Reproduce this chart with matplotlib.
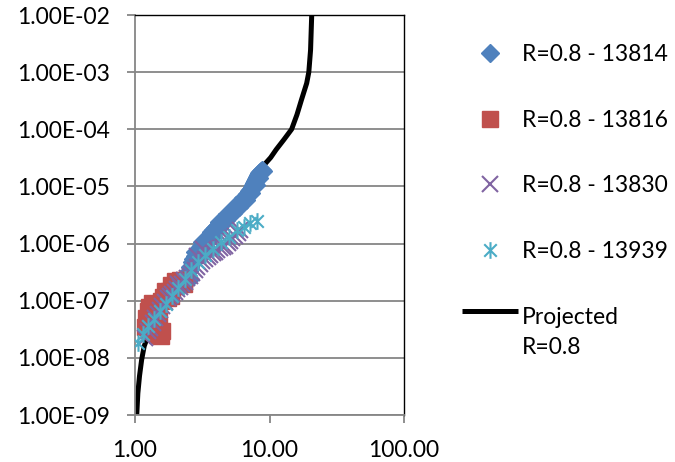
import matplotlib
matplotlib.use("Agg")
import numpy as np
import matplotlib.pyplot as plt
from matplotlib.path import Path
from matplotlib.legend_handler import HandlerLine2D
from matplotlib.ticker import NullLocator, FixedLocator

plt.rcParams['font.family'] = ['Lato', 'DejaVu Sans']

# ---------------- data ----------------
series_names = ["R=0.8 - 13814", "R=0.8 - 13816", "R=0.8 - 13830", "R=0.8 - 13939"]
line_name = "Projected\nR=0.8"

blue_x = [2.35, 2.45, 2.55, 2.50, 2.58, 2.66, 2.72, 2.80, 2.88, 2.95, 3.02, 3.10, 3.20, 3.30, 3.40,
          3.52, 3.65, 3.78, 3.92, 4.05, 4.20, 4.36, 4.52, 4.70, 4.88, 5.05, 5.25, 5.45, 5.65,
          5.85, 6.05, 6.25, 6.45, 6.65, 6.85, 7.05, 7.25, 7.42, 7.58, 7.72, 7.86, 8.00, 8.12,
          8.25, 8.38, 8.50, 8.62, 8.75,
          2.95, 3.30, 3.72, 4.20, 4.75, 5.35, 5.95, 6.65, 7.30, 7.90, 8.40, 8.90,
          2.78, 3.15, 3.65, 4.20, 4.85, 5.60, 6.40, 7.20, 7.80, 8.40]
blue_y = [2.2e-7, 2.7e-7, 2.4e-7, 3.3e-7, 3.9e-7, 4.7e-7, 5.4e-7, 6.0e-7, 6.8e-7, 7.5e-7, 8.2e-7,
          8.9e-7, 9.8e-7, 1.08e-6, 1.17e-6, 1.3e-6, 1.45e-6, 1.7e-6, 1.9e-6, 2.0e-6, 2.15e-6,
          2.35e-6, 2.6e-6, 2.85e-6, 3.1e-6, 3.4e-6, 3.8e-6, 4.1e-6, 4.5e-6, 4.9e-6, 5.3e-6,
          5.8e-6, 6.3e-6, 6.9e-6, 7.5e-6, 8.2e-6, 9.0e-6, 9.8e-6, 1.07e-5, 1.16e-5, 1.26e-5,
          1.36e-5, 1.46e-5, 1.56e-5, 1.66e-5, 1.76e-5, 1.86e-5, 1.96e-5,
          6.0e-7, 9.0e-7, 1.3e-6, 1.85e-6, 2.55e-6, 3.4e-6, 4.4e-6, 5.9e-6, 7.8e-6, 1.05e-5,
          1.4e-5, 1.85e-5,
          7.0e-7, 1.05e-6, 1.6e-6, 2.35e-6, 3.3e-6, 4.7e-6, 6.4e-6, 8.8e-6, 1.2e-5, 1.7e-5]

red_x = [1.19, 1.20, 1.24, 1.28, 1.33, 1.25, 1.30, 1.38, 1.45, 1.55, 1.60, 1.35, 1.42, 1.48,
         1.55, 1.62, 1.70, 1.80, 1.90, 2.00, 2.10, 2.20, 2.30, 1.75, 1.85, 1.50, 1.40,
         1.68, 1.85, 2.00, 2.15, 2.30]
red_y = [3.5e-8, 5.0e-8, 6.5e-8, 7.8e-8, 9.0e-8, 4.0e-8, 3.0e-8, 2.8e-8, 2.5e-8, 2.4e-8, 3.0e-8,
         4.8e-8, 6.0e-8, 8.0e-8, 1.0e-7, 1.15e-7, 1.3e-7, 1.45e-7, 1.6e-7, 1.8e-7, 2.0e-7,
         2.15e-7, 2.0e-7, 1.1e-7, 1.2e-7, 4.5e-8, 3.8e-8,
         1.5e-7, 1.85e-7, 2.2e-7, 2.35e-7, 2.3e-7]

purple_x = [1.19, 1.25, 1.29, 1.35, 1.41, 1.47, 1.53, 1.60, 1.67, 1.75, 1.82, 1.90, 1.98, 2.07,
            2.16, 2.25, 2.35, 2.45, 2.56, 2.67, 2.79, 2.91, 3.04, 3.17, 3.31, 3.46, 3.61, 3.77,
            3.93, 4.10, 4.29, 4.48, 4.67, 4.88, 5.09, 5.30, 5.55, 5.80, 6.04,
            2.10, 2.30, 2.90, 3.20]
purple_y = [2.2e-8, 2.9e-8, 3.3e-8, 4.1e-8, 5.0e-8, 5.9e-8, 6.9e-8, 8.2e-8, 9.6e-8, 1.1e-7,
            1.22e-7, 1.33e-7, 1.44e-7, 1.6e-7, 1.77e-7, 1.95e-7, 2.15e-7, 2.45e-7, 2.74e-7,
            3.1e-7, 3.5e-7, 3.9e-7, 4.4e-7, 4.9e-7, 5.4e-7, 5.9e-7, 6.3e-7, 6.8e-7, 7.2e-7,
            7.7e-7, 8.2e-7, 8.7e-7, 9.2e-7, 1.02e-6, 1.13e-6, 1.25e-6, 1.38e-6, 1.55e-6, 1.75e-6,
            2.0e-7, 2.3e-7, 6.0e-7, 8.0e-7]

cyan_x = [8.07, 7.17, 6.45, 5.73, 4.99, 4.37, 3.80, 3.31, 2.94, 2.61, 2.35, 2.09, 1.88, 1.70,
          1.53, 1.38, 1.25, 1.15, 1.05]
cyan_y = [2.52e-6, 2.3e-6, 1.98e-6, 1.7e-6, 1.32e-6, 1.08e-6, 8.1e-7, 6.4e-7, 4.7e-7, 3.4e-7,
          2.4e-7, 1.7e-7, 1.22e-7, 8.9e-8, 6.6e-8, 4.85e-8, 3.6e-8, 2.6e-8, 1.8e-8]

proj_x = [1.03, 1.05, 1.08, 1.12, 1.17, 1.23, 1.35, 1.50, 1.75, 2.00, 2.40, 2.90, 3.50, 4.30,
          5.20, 6.20, 7.20, 8.20, 9.00, 10.2, 11.2, 12.8, 14.6, 16.0, 17.3, 18.9, 19.6, 20.2,
          20.4, 20.6]
proj_y = [1e-9, 2.4e-9, 4.8e-9, 9.2e-9, 1.6e-8, 2.2e-8, 3.6e-8, 5.5e-8, 9.5e-8, 1.5e-7, 2.6e-7,
          4.8e-7, 9.0e-7, 1.8e-6, 3.3e-6, 5.5e-6, 8.8e-6, 1.4e-5, 2.3e-5, 3.2e-5, 4.4e-5, 6.6e-5,
          1e-4, 1.8e-4, 3.3e-4, 6.4e-4, 1e-3, 2.45e-3, 5e-3, 1e-2]

x_ticks = [1, 10, 100]
x_tick_labels = ["1.00", "10.00", "100.00"]
y_ticks = [1e-9, 1e-8, 1e-7, 1e-6, 1e-5, 1e-4, 1e-3, 1e-2]
y_tick_labels = ["1.00E-09", "1.00E-08", "1.00E-07", "1.00E-06", "1.00E-05", "1.00E-04",
                 "1.00E-03", "1.00E-02"]

# ---------------- styling ----------------
c_blue = "#4F81BD"
c_red = "#C0504D"
c_purple = "#8064A2"
c_cyan = "#4BACC6"
grid_c = "#868686"
FS = 16.5

star_path = Path([(0, -1), (0, 1), (-0.75, -0.75), (0.75, 0.75), (-0.75, 0.75), (0.75, -0.75)],
                 [Path.MOVETO, Path.LINETO, Path.MOVETO, Path.LINETO, Path.MOVETO, Path.LINETO])


class UpperLineHandler(HandlerLine2D):
    """Align the legend line with the first line of a two-line label."""
    shift = 15.5

    def create_artists(self, legend, orig_handle, xdescent, ydescent, width, height,
                       fontsize, trans):
        arts = super().create_artists(legend, orig_handle, xdescent, ydescent, width,
                                      height, fontsize, trans)
        for a in arts:
            a.set_ydata(np.asarray(a.get_ydata()) + self.shift)
        return arts


fig = plt.figure(figsize=(6.75, 4.62), dpi=100)
ax = fig.add_axes([135 / 675, 1 - 415 / 462, (404 - 135) / 675, 400 / 462])
ax.set_xscale('log')
ax.set_yscale('log')

proj_line, = ax.plot(proj_x, proj_y, color='black', lw=3.6, zorder=2, label=line_name,
                     solid_capstyle='butt', solid_joinstyle='round')
ax.plot(blue_x, blue_y, ls='none', marker='D', ms=9, color=c_blue, mec=c_blue, zorder=3,
        label=series_names[0])
ax.plot(red_x, red_y, ls='none', marker='s', ms=11, color=c_red, mec=c_red, zorder=3,
        label=series_names[1])
ax.plot(purple_x, purple_y, ls='none', marker='x', ms=11, mew=1.5, color=c_purple, zorder=3,
        label=series_names[2])
ax.plot(cyan_x, cyan_y, ls='none', marker=star_path, ms=12, mew=1.5, mfc='none', mec=c_cyan,
        zorder=4, label=series_names[3])

ax.set_xlim(1, 100)
ax.set_ylim(1e-9, 1e-2)
ax.xaxis.set_major_locator(FixedLocator(x_ticks))
ax.yaxis.set_major_locator(FixedLocator(y_ticks))
ax.xaxis.set_minor_locator(NullLocator())
ax.yaxis.set_minor_locator(NullLocator())
ax.set_xticklabels(x_tick_labels)
ax.set_yticklabels(y_tick_labels)
ax.tick_params(axis='both', which='major', direction='out', length=6, width=1.3,
               color=grid_c, labelsize=FS, labelcolor='black')
ax.tick_params(axis='x', pad=12)
ax.tick_params(axis='y', pad=12)
ax.yaxis.grid(True, color=grid_c, lw=1.3)
ax.set_axisbelow(True)

for s in ['left', 'bottom']:
    ax.spines[s].set_color(grid_c)
    ax.spines[s].set_linewidth(1.3)
for s in ['top', 'right']:
    ax.spines[s].set_color('black')
    ax.spines[s].set_linewidth(1.0)

handles, labels = ax.get_legend_handles_labels()
order = [1, 2, 3, 4, 0]
leg = ax.legend([handles[i] for i in order], [labels[i] for i in order],
                loc='upper left', bbox_to_anchor=(462 / 675, 1 - 44 / 462),
                bbox_transform=fig.transFigure, frameon=False, fontsize=FS,
                handlelength=2.45, handletextpad=0.15, labelspacing=1.95, borderpad=0,
                borderaxespad=0, numpoints=1,
                handler_map={proj_line: UpperLineHandler()})
for t in leg.get_texts():
    t.set_linespacing(1.55)

fig.savefig("out.png", dpi=100)
